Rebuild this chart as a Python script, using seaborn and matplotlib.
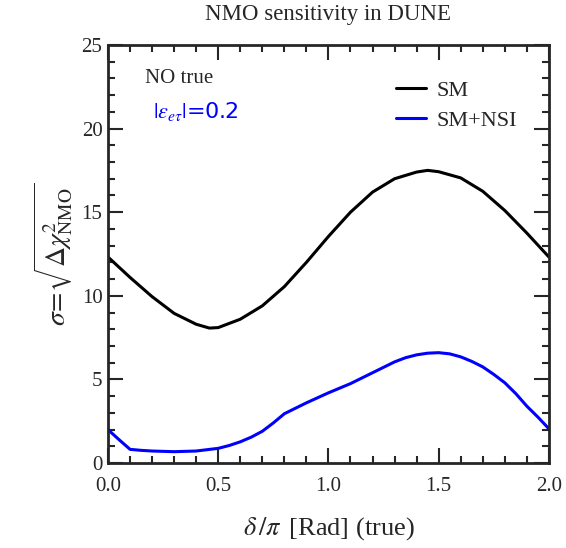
import numpy as np
import pandas as pd
import matplotlib
matplotlib.use('Agg')
import matplotlib.pyplot as plt
import seaborn as sns
from matplotlib.ticker import MultipleLocator

# delta/pi (true) and sensitivities
delta_sm = [0.0, 0.1, 0.2, 0.3, 0.4, 0.46, 0.5, 0.6, 0.7, 0.8, 0.9, 1.0,
            1.1, 1.2, 1.3, 1.4, 1.45, 1.5, 1.6, 1.7, 1.8, 1.9, 2.0]
sigma_sm = [12.32, 11.1, 9.95, 8.95, 8.3, 8.07, 8.1, 8.6, 9.4, 10.55, 12.0, 13.55,
            15.0, 16.2, 17.0, 17.4, 17.5, 17.42, 17.05, 16.25, 15.1, 13.75, 12.32]

delta_nsi = [0.0, 0.05, 0.1, 0.15, 0.2, 0.3, 0.4, 0.5, 0.55, 0.6, 0.65, 0.7, 0.75,
             0.8, 0.9, 1.0, 1.1, 1.2, 1.3, 1.35, 1.4, 1.45, 1.5, 1.55, 1.6, 1.65,
             1.7, 1.75, 1.8, 1.85, 1.9, 1.95, 2.0]
sigma_nsi = [2.0, 1.4, 0.82, 0.76, 0.72, 0.68, 0.72, 0.88, 1.05, 1.27, 1.55, 1.9, 2.4,
             2.95, 3.6, 4.2, 4.75, 5.4, 6.05, 6.3, 6.47, 6.57, 6.6, 6.53, 6.35, 6.08,
             5.75, 5.3, 4.8, 4.15, 3.4, 2.75, 2.05]

df = pd.concat([
    pd.DataFrame({'delta': delta_sm, 'sigma': sigma_sm, 'model': 'SM'}),
    pd.DataFrame({'delta': delta_nsi, 'sigma': sigma_nsi, 'model': 'SM+NSI'}),
])

sns.set_style('ticks')
plt.rcParams['font.family'] = ['Liberation Serif', 'DejaVu Serif']
plt.rcParams['mathtext.fontset'] = 'stix'

fig = plt.figure(figsize=(5.66, 5.48), dpi=100)
ax = fig.add_axes([0.1908, 0.155, 0.779, 0.763])

sns.lineplot(data=df, x='delta', y='sigma', hue='model',
             palette={'SM': 'black', 'SM+NSI': '#0000ff'}, linewidth=2.2, ax=ax)

ax.set_xlim(0, 2)
ax.set_ylim(0, 25)
ax.xaxis.set_major_locator(MultipleLocator(0.5))
ax.xaxis.set_minor_locator(MultipleLocator(0.1))
ax.yaxis.set_major_locator(MultipleLocator(5))
ax.yaxis.set_minor_locator(MultipleLocator(1))
ax.xaxis.set_major_formatter(plt.FormatStrFormatter('%.1f'))
ax.tick_params(which='both', direction='in', top=True, right=True, labelsize=15, width=1.5)
ax.tick_params(which='major', length=10.5)
ax.tick_params(which='minor', length=5)
ax.tick_params(axis='x', which='major', pad=10)
ax.tick_params(axis='y', which='major', pad=4)
for s in ax.spines.values():
    s.set_linewidth(2)

ax.set_title('NMO sensitivity in DUNE', fontsize=16.5, pad=18)
ax.set_xlabel(r'$\delta\,/\pi\,$ [Rad] (true)', fontsize=19, labelpad=14)
ax.set_ylabel(r'$\sigma\!=\!\sqrt{\Delta\chi^2_{\rm NMO}}$', fontsize=20, labelpad=4)

ax.text(0.168, 22.97, 'NO true', fontsize=15, va='center')
ax.text(0.204, 21.0, r'$|\varepsilon_{e\tau}|$' + '=0.2', color='#0000ff', fontsize=16,
        va='center', family=['DejaVu Sans'])

leg = ax.legend(loc='upper left', bbox_to_anchor=(0.653, 0.916), frameon=False,
                fontsize=16, handlelength=1.36, handletextpad=0.45, labelspacing=0.45,
                borderpad=0, borderaxespad=0, title=None)

fig.savefig('out.png', dpi=100)
